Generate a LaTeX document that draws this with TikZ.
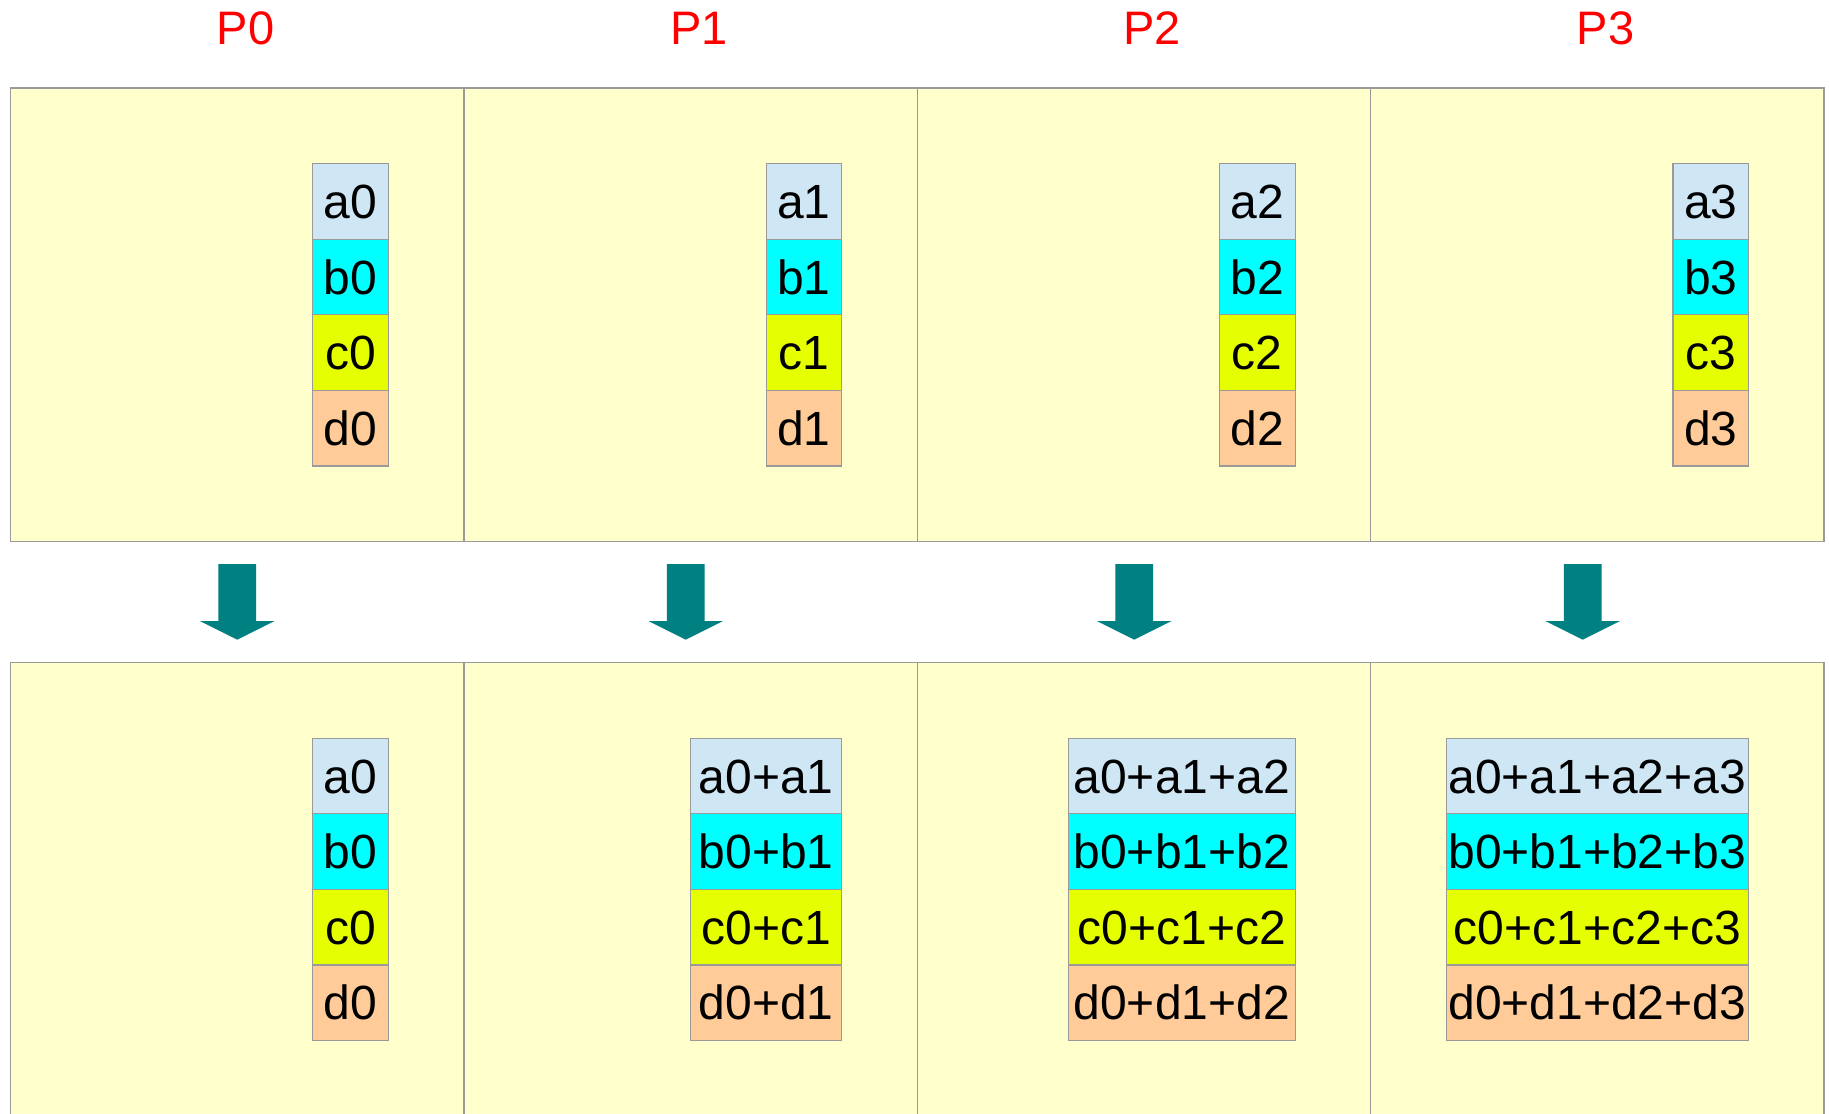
\documentclass[tikz,border=0pt]{standalone}
\usepackage{fontspec}
\setmainfont{Liberation Sans}
\usetikzlibrary{calc}
\definecolor{panelfill}{HTML}{FFFFCC}
\definecolor{edgegray}{HTML}{9A9A9A}
\definecolor{cella}{HTML}{CFE7F5}
\definecolor{cellb}{HTML}{00FFFF}
\definecolor{cellc}{HTML}{E6FF00}
\definecolor{celld}{HTML}{FFCC99}
\definecolor{arrowteal}{HTML}{008080}
\definecolor{labelred}{HTML}{FF0000}
\begin{document}
\begin{tikzpicture}[x=1pt,y=-1pt,
  panel/.style={draw=edgegray, line width=1.4pt, fill=panelfill, inner sep=0pt,
    outer sep=0pt, minimum width=453.4pt, minimum height=453.5pt, anchor=north west},
  cell/.style={draw=edgegray, line width=1.2pt, inner sep=0pt, outer sep=0pt,
    minimum height=75.6pt, text height=34.5pt, text depth=0pt,
    font=\fontsize{48}{52}\selectfont},
  plabel/.style={text=labelred, anchor=base, inner sep=0pt,
    font=\fontsize{47}{52}\selectfont},
  downarrow/.style={fill=arrowteal}
]
\useasboundingbox (0,0) rectangle (1829,1114);
\clip (0,0) rectangle (1829,1114);

% processes before (top row) and after (bottom row) the scan
\foreach \i in {0,...,3} {
  \node[panel] (top\i) at ({10.5+453.4*\i},88) {};
  \node[panel] (bot\i) at ({10.5+453.4*\i},662.5) {};
  \node[plabel] (lbl\i) at ($(top\i.north)+(8.3,-43.7)$) {P\i};
}

% local data of each process
\foreach \i in {0,...,3} {
  \node[cell, fill=cella, minimum width=75.6pt, anchor=north east] (ta\i)
    at ($(top\i.north east)+(-75.6,75.6)$) {a\i};
  \node[cell, fill=cellb, minimum width=75.6pt, anchor=north] (tb\i) at (ta\i.south) {b\i};
  \node[cell, fill=cellc, minimum width=75.6pt, anchor=north] (tc\i) at (tb\i.south) {c\i};
  \node[cell, fill=celld, minimum width=75.6pt, anchor=north] (td\i) at (tc\i.south) {d\i};
}

% prefix sums held after the scan
\foreach \i/\n/\sa/\sb/\sc/\sd in {
  0/1/{a0}/{b0}/{c0}/{d0},
  1/2/{a0+a1}/{b0+b1}/{c0+c1}/{d0+d1},
  2/3/{a0+a1+a2}/{b0+b1+b2}/{c0+c1+c2}/{d0+d1+d2},
  3/4/{a0+a1+a2+a3}/{b0+b1+b2+b3}/{c0+c1+c2+c3}/{d0+d1+d2+d3}} {
  \node[cell, fill=cella, minimum width={75.6pt*\n}, anchor=north east] (ba\i)
    at ($(bot\i.north east)+(-75.6,75.6)$) {\sa};
  \node[cell, fill=cellb, minimum width={75.6pt*\n}, anchor=north] (bb\i) at (ba\i.south) {\sb};
  \node[cell, fill=cellc, minimum width={75.6pt*\n}, anchor=north] (bc\i) at (bb\i.south) {\sc};
  \node[cell, fill=celld, minimum width={75.6pt*\n}, anchor=north] (bd\i) at (bc\i.south) {\sd};
}

% block arrows from each process to its result
\foreach \i in {0,...,3} {
  \coordinate (ar\i) at ($(top\i.south)+({-4.9*\i},0)$);
  \coordinate (tip\i) at ($(ar\i)!1!(bot\i.north -| ar\i)+(0,-22.8)$);
  \fill[downarrow] ($(ar\i)+(-18.9,22.5)$) -- ($(ar\i)+(18.9,22.5)$)
    -- ($(ar\i)+(18.9,79.5)$) -- ($(ar\i)+(37.3,79.5)$)
    -- (tip\i)
    -- ($(ar\i)+(-37.3,79.5)$) -- ($(ar\i)+(-18.9,79.5)$) -- cycle;
}
\end{tikzpicture}
\end{document}
